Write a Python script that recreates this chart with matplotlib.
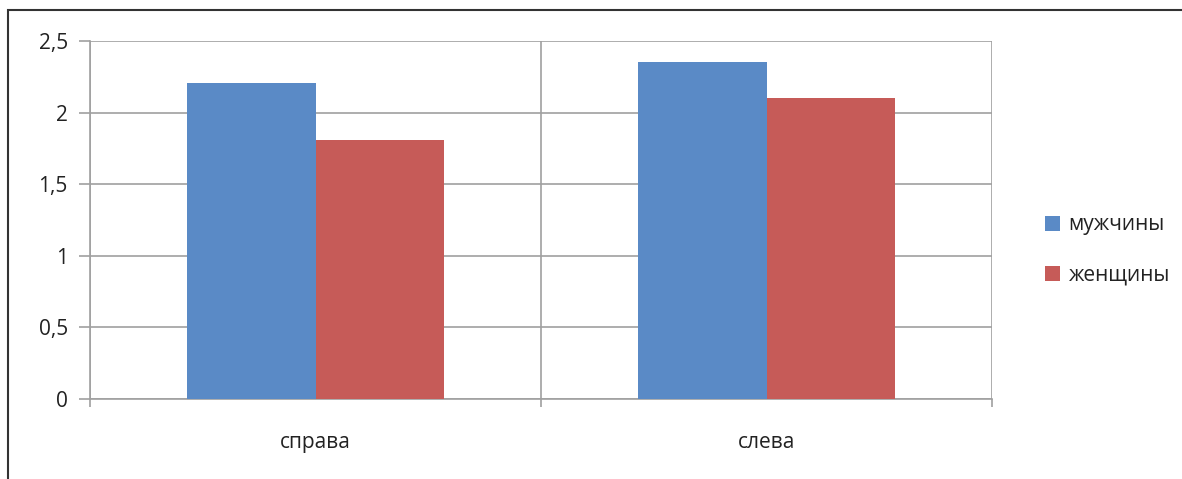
import matplotlib.pyplot as plt
from matplotlib.patches import Rectangle
from matplotlib.ticker import FuncFormatter
import numpy as np

categories = ["справа", "слева"]
men = [2.21, 2.35]
women = [1.81, 2.10]
series_names = ["мужчины", "женщины"]

plt.rcParams['font.family'] = ['Open Sans', 'DejaVu Sans']

fig = plt.figure(figsize=(11.82, 4.79), dpi=100)
ax = fig.add_axes([90 / 1182, 80 / 479, 902 / 1182, 358 / 479])

x = np.arange(len(categories))
w = 1 / 3.5
ax.bar(x - w / 2, men, w, color='#5a8ac6', label=series_names[0], zorder=3)
ax.bar(x + w / 2, women, w, color='#c65b58', label=series_names[1], zorder=3)

ax.set_xlim(-0.5, 1.5)
ax.set_ylim(0, 2.5)
ax.set_yticks(np.arange(0, 2.51, 0.5))
ax.yaxis.set_major_formatter(FuncFormatter(lambda v, p: f"{v:g}".replace('.', ',')))
ax.grid(axis='y', color='#a0a0a0', linewidth=1.2, zorder=0)

# category boundaries
ax.set_xticks([-0.5, 0.5, 1.5])
ax.set_xticklabels([])
ax.set_xticks(x, minor=True)
ax.set_xticklabels(categories, minor=True)
ax.tick_params(axis='x', which='minor', length=0, pad=24, labelsize=15, colors='#222222')
ax.tick_params(axis='x', which='major', length=6, width=1.2, color='#a0a0a0')
ax.tick_params(axis='y', length=8, width=1.2, color='#a0a0a0', labelsize=15, labelcolor='#222222', pad=8)
ax.grid(axis='x', which='major', color='#a0a0a0', linewidth=1.2, zorder=0)

for s in ['top', 'right']:
    ax.spines[s].set_visible(False)
for s in ['left', 'bottom']:
    ax.spines[s].set_color('#a0a0a0')
    ax.spines[s].set_linewidth(1.2)

fig.legend(loc='center left', bbox_to_anchor=(1026 / 1182, 1 - 250 / 479),
           frameon=False, fontsize=15, handlelength=0.75, handleheight=0.75,
           handletextpad=0.4, labelspacing=1.4, labelcolor='#222222')

# outer chart border (left and top visible)
fig.add_artist(Rectangle((8 / 1182, -0.2), 1.2, 1.2 - 10 / 479,
                         transform=fig.transFigure, fill=False,
                         edgecolor='#333333', linewidth=1.5))

fig.savefig("out.png", dpi=100)
